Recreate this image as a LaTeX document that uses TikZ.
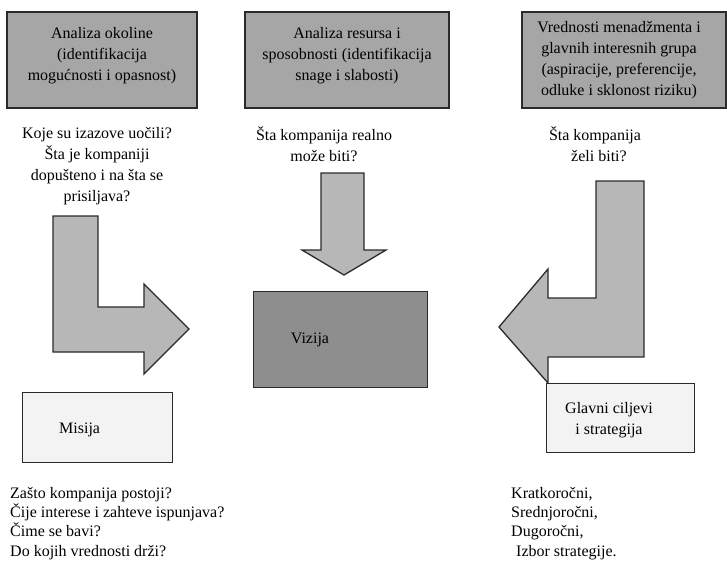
\documentclass[tikz,border=0pt]{standalone}
\usepackage{fontspec}
\setmainfont{Liberation Serif}
\newfontfamily\timesfont{Liberation Serif}
\definecolor{boxgray}{HTML}{A6A6A6}
\definecolor{arrowgray}{HTML}{B7B7B7}
\definecolor{visgray}{HTML}{8E8E8E}
\definecolor{lightbox}{HTML}{F3F3F3}
\definecolor{edge}{HTML}{2A2A2A}
\begin{document}
\begin{tikzpicture}[x=1pt,y=-1pt,
  every node/.style={font=\timesfont\fontsize{16}{21}\selectfont, inner sep=0pt},
  topbox/.style={draw=edge, line width=1.3pt, fill=boxgray, align=center},
  bigarrow/.style={draw=edge, line width=1.3pt, fill=arrowgray, line join=miter},
  lightbx/.style={draw=edge, line width=1pt, fill=lightbox},
  question/.style={align=center},
  listtext/.style={align=left, anchor=north west, font=\timesfont\fontsize{16}{19.3}\selectfont}]
\useasboundingbox (0,0) rectangle (727,566);

% top boxes
\node[topbox, minimum width=190pt, minimum height=96pt, text depth=13pt] (okolina) at (102,60)
  {Analiza okoline\\(identifikacija\\mogućnosti i opasnost)};
\node[topbox, minimum width=204pt, minimum height=96pt, text depth=13pt] (resursi) at (347,60)
  {Analiza resursa i\\sposobnosti (identifikacija\\snage i slabosti)};
\node[topbox, minimum width=204pt, minimum height=96pt] (vrednosti) at (624,60)
  {\hspace*{-10pt}Vrednosti menadžmenta i\\\hspace*{-10pt}glavnih interesnih grupa\\\hspace*{-10pt}(aspiracije, preferencije,\\\hspace*{-10pt}odluke i sklonost riziku)};

% questions under top boxes
\node[question, anchor=north] (q1) at (97,127)
  {Koje su izazove uočili?\\Šta je kompaniji\\dopušteno i na šta se\\prisiljava?};
\node[question, anchor=north] (q2) at (324,127)
  {Šta kompanija realno\\može biti?};
\node[question, anchor=north] (q3) at (595,127)
  {Šta kompanija\\\hspace*{8pt}želi biti?};

% arrows
\draw[bigarrow] (53,216) -- (98,216) -- (98,307) -- (144,307) -- (144,284)
  -- (189,329) -- (144,374) -- (144,352) -- (53,352) -- cycle;
\draw[bigarrow] (321,173) -- (364,173) -- (364,250) -- (386,250) -- (344,275)
  -- (302,250) -- (321,250) -- cycle;
\draw[bigarrow] (596,181) -- (644,181) -- (644,357) -- (548,357) -- (548,383)
  -- (499,327) -- (548,269) -- (548,298) -- (596,298) -- cycle;

% Vizija
\node[draw=edge, line width=1pt, fill=visgray, minimum width=174pt, minimum height=96pt] (vizija) at (340,339) {};
\node (vizijatext) at (310,340) {Vizija};

% Misija
\node[lightbx, minimum width=150pt, minimum height=70pt] (misija) at (97,427) {};
\node[anchor=west] (misijatext) at (59,430) {Misija};

% Glavni ciljevi
\node[lightbx, minimum width=148pt, minimum height=69pt] (ciljevi) at (620,417.5) {};
\node[align=center] (ciljevitext) at (609,420) {Glavni ciljevi\\i strategija};

% bottom lists
\node[listtext] (misijalist) at (10,487)
  {Zašto kompanija postoji?\\Čije interese i zahteve ispunjava?\\Čime se bavi?\\Do kojih vrednosti drži?};
\node[listtext] (ciljevilist) at (511,487)
  {Kratkoročni,\\Srednjoročni,\\Dugoročni,\\\hspace*{5pt}Izbor strategije.};
\end{tikzpicture}
\end{document}
